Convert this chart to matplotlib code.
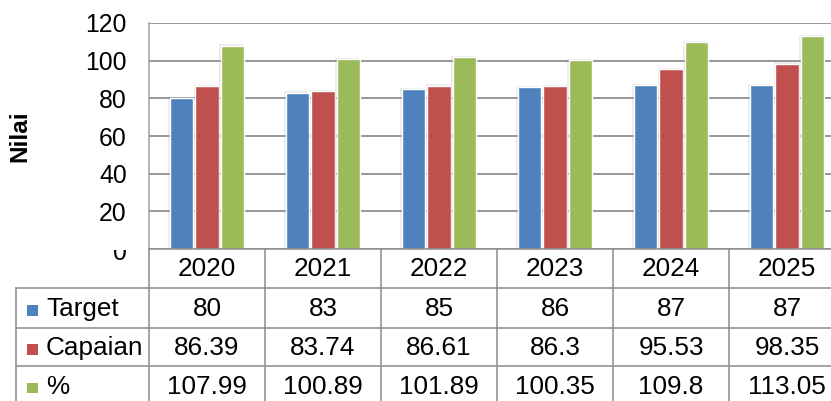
import numpy as np
import matplotlib
matplotlib.use('Agg')
import matplotlib.pyplot as plt
import matplotlib.patheffects as pe
from matplotlib.transforms import blended_transform_factory, Bbox, TransformedBbox
from matplotlib.lines import Line2D

# data
years = ['2020', '2021', '2022', '2023', '2024', '2025']
target = [80, 83, 85, 86, 87, 87]
capaian = [86.39, 83.74, 86.61, 86.3, 95.53, 98.35]
persen = [107.99, 100.89, 101.89, 100.35, 109.8, 113.05]
target_txt = ['80', '83', '85', '86', '87', '87']
capaian_txt = ['86.39', '83.74', '86.61', '86.3', '95.53', '98.35']
persen_txt = ['107.99', '100.89', '101.89', '100.35', '109.8', '113.05']
series_names = ['Target', 'Capaian', '%']
colors = ['#4F81BD', '#C0504D', '#9BBB59']

plt.rcParams['font.family'] = ['Liberation Sans', 'DejaVu Sans']

W, H = 831, 401
fig = plt.figure(figsize=(W / 100, H / 100), dpi=100)

def fx(x):
    return x / W

def fy(y):
    return 1 - y / H

grid_col = '#8A8A8A'
line_col = '#8C8C8C'
fs = 18.8

# plot area (extends a bit past the right edge, like the cropped original)
left, top, bottom, right = 149, 23, 249, 845
ax = fig.add_axes([fx(left), fy(bottom), fx(right - left), fy(top) - fy(bottom)])
ax.set_xlim(0, len(years))
ax.set_ylim(0, 120)
ax.set_yticks(np.arange(0, 121, 20))
ax.set_yticklabels([''] + [str(v) for v in range(20, 121, 20)])
ax.tick_params(axis='y', length=0, pad=16, labelsize=17.8)
ax.set_xticks([])
ax.yaxis.grid(True, color=grid_col, linewidth=1.25)
ax.set_axisbelow(True)
for s in ['top', 'right', 'bottom']:
    ax.spines[s].set_visible(False)
ax.spines['left'].set_color('#A0A0A0')
ax.spines['left'].set_linewidth(1.1)

x = np.arange(len(years)) + 0.5
bw = 0.205
step = 0.22
shadow = [pe.SimplePatchShadow(offset=(-1.0, 1.0), shadow_rgbFace='#999999', alpha=0.18), pe.Normal()]
for i, vals in enumerate([target, capaian, persen]):
    bars = ax.bar(x + (i - 1) * step, vals, width=bw, color=colors[i],
                  edgecolor='white', linewidth=1.0, zorder=3)
    for b in bars:
        b.set_path_effects(shadow)

# y axis title
fig.text(fx(20), fy((top + bottom) / 2), 'Nilai', rotation=90, ha='center', va='center',
         fontsize=17.5, fontweight='bold')

# the "0" tick label is half hidden behind the table header
t0 = fig.text(fx(127), fy(253.5), '0', ha='right', va='center', fontsize=17.8)
t0.set_clip_box(TransformedBbox(Bbox([[0, 0], [1, fy(250)]]), fig.transFigure))
t0.set_clip_on(True)

# data table below the axis
tr = blended_transform_factory(ax.transData, fig.transFigure)
row_lines = [249, 288, 328, 366, 405]
lw = 1.1
# x axis / header top
fig.add_artist(Line2D([0, len(years)], [fy(249)] * 2, transform=tr, color=line_col, lw=lw))
for yl in row_lines[1:4]:
    fig.add_artist(Line2D([fx(16), fx(right)], [fy(yl)] * 2, transform=fig.transFigure, color=line_col, lw=lw))
for k in range(len(years) + 1):
    fig.add_artist(Line2D([k, k], [fy(249), fy(410)], transform=tr, color=line_col, lw=lw))
fig.add_artist(Line2D([fx(16)] * 2, [fy(288), fy(410)], transform=fig.transFigure, color=line_col, lw=lw))

centers = [(row_lines[r] + row_lines[r + 1]) / 2 + 1 for r in range(4)]
for j, yr in enumerate(years):
    fig.text(x[j], fy(centers[0]), yr, transform=tr, ha='center', va='center', fontsize=fs)
for r, txts in enumerate([target_txt, capaian_txt, persen_txt]):
    for j, s in enumerate(txts):
        fig.text(x[j], fy(centers[r + 1]), s, transform=tr, ha='center', va='center', fontsize=fs)
    # legend key + series name
    fig.add_artist(plt.Rectangle((fx(27), fy(centers[r + 1] + 6.5)), fx(10.5), fy(0) - fy(10.5),
                                 transform=fig.transFigure, facecolor=colors[r], edgecolor='none'))
    fig.text(fx(46), fy(centers[r + 1]), series_names[r], ha='left', va='center', fontsize=fs)

fig.savefig('out.png', dpi=100)
